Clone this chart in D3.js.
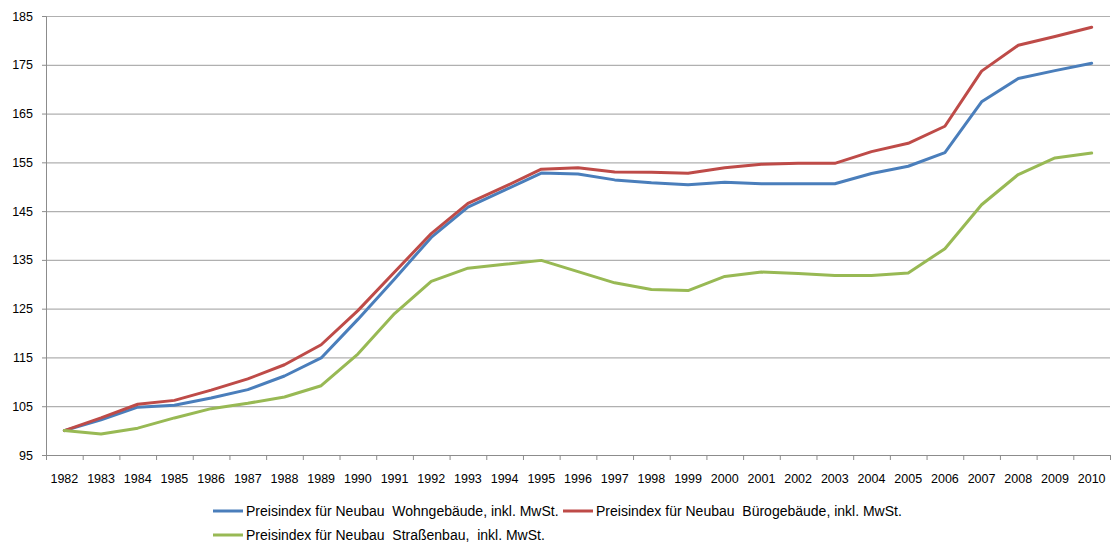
<!DOCTYPE html>
<html>
<head>
<meta charset="utf-8">
<script src="https://cdn.jsdelivr.net/npm/d3@7"></script>
<style>
  html, body { margin: 0; padding: 0; background: #fff; }
  svg { display: block; font-family: "Liberation Sans", Arial, sans-serif; }
</style>
</head>
<body>
<svg id="chart" width="1115" height="547"></svg>
<script>
// Baupreisindizes, 1982 = 100
const years = [1982, 1983, 1984, 1985, 1986, 1987, 1988, 1989, 1990, 1991,
  1992, 1993, 1994, 1995, 1996, 1997, 1998, 1999, 2000, 2001,
  2002, 2003, 2004, 2005, 2006, 2007, 2008, 2009, 2010];

const wohngebaeude = [100.0, 102.2, 104.8, 105.2, 106.7, 108.4, 111.2, 114.9, 122.8, 131.1,
  139.6, 145.8, 149.3, 152.8, 152.6, 151.4, 150.8, 150.4, 150.9, 150.6,
  150.6, 150.6, 152.7, 154.2, 157.0, 167.4, 172.2, 173.8, 175.3];

const buerogebaeude = [100.0, 102.6, 105.4, 106.2, 108.3, 110.6, 113.5, 117.6, 124.6, 132.5,
  140.4, 146.6, 150.0, 153.6, 153.9, 153.0, 152.95, 152.75, 153.9, 154.6,
  154.8, 154.8, 157.2, 158.9, 162.4, 173.7, 179.0, 180.8, 182.7];

const strassenbau = [100.0, 99.3, 100.5, 102.6, 104.5, 105.6, 106.9, 109.2, 115.7, 124.0,
  130.6, 133.3, 134.1, 134.9, 132.6, 130.3, 128.95, 128.7, 131.6, 132.5,
  132.2, 131.8, 131.8, 132.3, 137.3, 146.3, 152.5, 155.9, 156.9];

const yTicks = [95, 105, 115, 125, 135, 145, 155, 165, 175, 185];

const seriesNames = [
  "Preisindex für Neubau  Wohngebäude, inkl. MwSt.",
  "Preisindex für Neubau  Bürogebäude, inkl. MwSt.",
  "Preisindex für Neubau  Straßenbau,  inkl. MwSt."
];
const seriesColors = ["#4a7ebb", "#be4b48", "#98b954"];

const series = [wohngebaeude, buerogebaeude, strassenbau].map((values, i) => ({
  name: seriesNames[i],
  color: seriesColors[i],
  values: values.map((v, j) => ({ year: years[j], value: v }))
}));

const svg = d3.select("#chart");
const margin = { left: 46, right: 5, top: 16, bottom: 92 };
const width = 1115, height = 547;
const plotW = width - margin.left - margin.right;
const plotH = height - margin.top - margin.bottom;

const x = d3.scaleBand().domain(years).range([0, plotW]).padding(0);
const y = d3.scaleLinear().domain([95, 185]).range([plotH, 0]);

const g = svg.append("g").attr("transform", `translate(${margin.left},${margin.top})`);

// horizontal gridlines
g.append("g")
  .selectAll("line")
  .data(yTicks)
  .join("line")
  .attr("x1", 0).attr("x2", plotW)
  .attr("y1", d => y(d) + 0.5).attr("y2", d => y(d) + 0.5)
  .attr("stroke", "#b0b0b0")
  .attr("stroke-width", 1.2);

// y axis
const yAxis = g.append("g")
  .call(d3.axisLeft(y).tickValues(yTicks).tickSize(4).tickPadding(9))
  .call(a => a.selectAll("text").attr("font-size", 12.5).attr("fill", "#000"));
yAxis.select(".domain").attr("stroke", "#8c8c8c");
yAxis.selectAll(".tick line").attr("stroke", "#8c8c8c");

// x axis: ticks on the band boundaries, labels at band centres
const xAxisG = g.append("g").attr("transform", `translate(0,${plotH})`);
xAxisG.append("line")
  .attr("x1", 0).attr("x2", plotW)
  .attr("y1", 0.5).attr("y2", 0.5)
  .attr("stroke", "#8c8c8c");
xAxisG.selectAll("line.tick")
  .data(years.concat([null]))
  .join("line")
  .attr("class", "tick")
  .attr("x1", (d, i) => i * x.bandwidth() + 0.5)
  .attr("x2", (d, i) => i * x.bandwidth() + 0.5)
  .attr("y1", 0).attr("y2", 5)
  .attr("stroke", "#8c8c8c");
xAxisG.selectAll("text")
  .data(years)
  .join("text")
  .attr("x", d => x(d) + x.bandwidth() / 2)
  .attr("y", 28)
  .attr("text-anchor", "middle")
  .attr("font-size", 12.5)
  .attr("fill", "#000")
  .text(d => d);

// series lines
const line = d3.line()
  .x(d => x(d.year) + x.bandwidth() / 2)
  .y(d => y(d.value));

g.append("g")
  .selectAll("path")
  .data(series)
  .join("path")
  .attr("d", d => line(d.values))
  .attr("fill", "none")
  .attr("stroke", d => d.color)
  .attr("stroke-width", 3)
  .attr("stroke-linejoin", "round")
  .attr("stroke-linecap", "round");

// legend
const legendPos = [
  { x: 213, y: 511 },
  { x: 563, y: 511 },
  { x: 213, y: 535 }
];
const legend = svg.append("g")
  .selectAll("g")
  .data(series)
  .join("g")
  .attr("transform", (d, i) => `translate(${legendPos[i].x},${legendPos[i].y})`);
legend.append("line")
  .attr("x1", 0).attr("x2", 30)
  .attr("y1", 0).attr("y2", 0)
  .attr("stroke", d => d.color)
  .attr("stroke-width", 3);
legend.append("text")
  .attr("x", 33)
  .attr("y", 5)
  .attr("font-size", 14)
  .attr("fill", "#000")
  .attr("xml:space", "preserve")
  .style("white-space", "pre")
  .text(d => d.name);
</script>
</body>
</html>
